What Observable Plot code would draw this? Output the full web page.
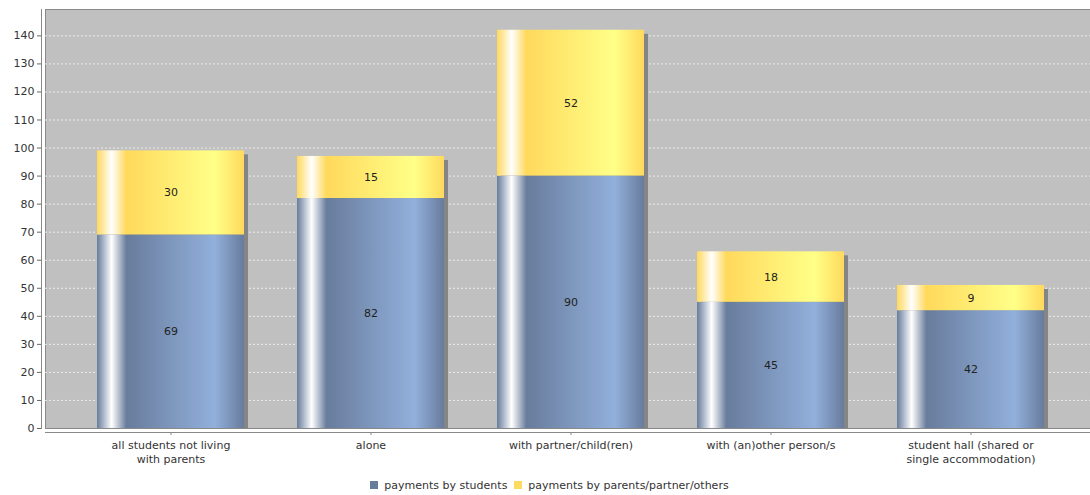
<!DOCTYPE html>
<html><head><meta charset="utf-8">
<script src="https://cdn.jsdelivr.net/npm/d3@7"></script>
<script src="https://cdn.jsdelivr.net/npm/@observablehq/plot@0.6"></script>
<style>
body{margin:0;background:#fff;font-family:"DejaVu Sans",sans-serif;}
#legend{display:flex;justify-content:center;align-items:center;padding-left:16px;margin-top:8px;height:14px;font-size:11px;color:#333;}
#legend .sw{display:inline-block;width:8px;height:8px;margin-right:6px;}
#legend .item{display:flex;align-items:center;margin-right:7px;}
</style></head><body>
<div id="chart"></div>
<div id="legend"></div>
<script>
const categories = ["all students not living\nwith parents", "alone", "with partner/child(ren)", "with (an)other person/s", "student hall (shared or\nsingle accommodation)"];
const studentPayments = [69, 82, 90, 45, 42];
const otherPayments = [30, 15, 52, 18, 9];
const seriesNames = ["payments by students", "payments by parents/partner/others"];
const seriesColors = ["#687c9c", "#ffda60"];
const yTicks = [0,10,20,30,40,50,60,70,80,90,100,110,120,130,140];
const gridTicks = yTicks.filter(t => t > 0);

const rows = categories.map((c, i) => ({cat: c, s: studentPayments[i], o: otherPayments[i], total: studentPayments[i] + otherPayments[i]}));

const plot = Plot.plot({
  width: 1090, height: 470,
  marginLeft: 45, marginRight: 0, marginTop: 9, marginBottom: 42,
  style: {fontFamily: "DejaVu Sans", fontSize: "11px", color: "#333", background: "white", overflow: "visible"},
  x: {domain: categories, paddingInner: 0.265, paddingOuter: 0.1325, insetLeft: 25.5, insetRight: 19.5, label: null},
  y: {domain: [0, 149.4], label: null},
  marks: [
    Plot.frame({fill: "#c0c0c0", stroke: "#8a8a8a"}),
    Plot.gridY(gridTicks, {stroke: "white", strokeOpacity: 0.7, strokeDasharray: "2,2"}),
    Plot.barY(rows, {x: "cat", y1: 0, y2: "total", fill: "#858585", dx: 4, insetTop: 4}),
    Plot.barY(rows, {x: "cat", y1: 0, y2: "s", fill: "url(#gBlue)"}),
    Plot.barY(rows, {x: "cat", y1: "s", y2: "total", fill: "url(#gYellow)"}),
    Plot.text(rows, {x: "cat", y: d => d.s / 2, text: "s", fill: "#222"}),
    Plot.text(rows, {x: "cat", y: d => d.s + d.o / 2, text: "o", fill: "#222"}),
    Plot.axisY(yTicks, {tickSize: 4, dx: -4, tickPadding: 3, stroke: "#666", fill: "#333"}),
    Plot.frame({anchor: "left", dx: -4, stroke: "#888"}),
    Plot.frame({anchor: "bottom", dy: 4, stroke: "#888"}),
    Plot.axisX({tickSize: 3, dy: 4, tickPadding: 3, lineHeight: 1.3, stroke: "#888", fill: "#333"})
  ]
});

const svg = d3.select(plot);
const defs = svg.insert("defs", ":first-child");
function grad(id, c0, c1) {
  const g = defs.append("linearGradient").attr("id", id).attr("x1", "0").attr("x2", "1").attr("y1", "0").attr("y2", "0");
  [[0, c0], [0.10, "#ffffff"], [0.20, c0], [0.80, c1], [1, c0]].forEach(([o, c]) => g.append("stop").attr("offset", o).attr("stop-color", c));
}
grad("gBlue", "#687c9c", "#92b0dc");
grad("gYellow", "#ffd95c", "#ffff88");
document.getElementById("chart").appendChild(plot);

const legend = d3.select("#legend");
seriesNames.forEach((n, i) => {
  const it = legend.append("span").attr("class", "item");
  it.append("span").attr("class", "sw").style("background", seriesColors[i]);
  it.append("span").text(n);
});
</script>
</body></html>
